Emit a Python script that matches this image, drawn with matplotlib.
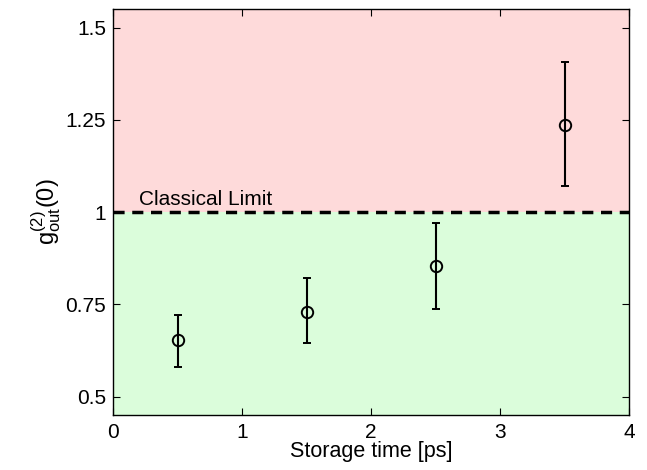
import matplotlib
matplotlib.use("Agg")
import matplotlib.pyplot as plt

plt.rcParams['font.family'] = ['Liberation Sans', 'DejaVu Sans']
plt.rcParams['mathtext.fontset'] = 'custom'
plt.rcParams['mathtext.rm'] = 'Liberation Sans'
plt.rcParams['mathtext.it'] = 'Liberation Sans:italic'

storage_time = [0.5, 1.5, 2.5, 3.5]
g2 = [0.652, 0.730, 0.854, 1.237]
err_upper = [0.721, 0.821, 0.970, 1.407]
err_lower = [0.580, 0.645, 0.738, 1.071]
classical_limit = 1.0
xticks = [0, 1, 2, 3, 4]
yticks = [0.5, 0.75, 1, 1.25, 1.5]
ytick_labels = ['0.5', '0.75', '1', '1.25', '1.5']

fig = plt.figure(figsize=(6.47, 4.70), dpi=100)
ax = fig.add_axes([113/647, 1 - 415/470, (629-113)/647, (415-9.3)/470])

xmin, xmax = 0, 4
ymin, ymax = 0.45, 1.55
ax.axhspan(ymin, classical_limit, color='#dbfddb', zorder=0, lw=0)
ax.axhspan(classical_limit, ymax, color='#fedada', zorder=0, lw=0)
ax.axhline(classical_limit, color='black', lw=2.5, ls=(0, (3.2, 2.2)), zorder=2)
ax.text(0.2, classical_limit + 0.008, 'Classical Limit', fontsize=15, ha='left', va='bottom')

yerr = [[g - lo for g, lo in zip(g2, err_lower)], [hi - g for g, hi in zip(g2, err_upper)]]
ax.errorbar(storage_time, g2, yerr=yerr, fmt='o', mfc='none', mec='black', color='black',
            ms=8.2, mew=1.4, elinewidth=1.5, capsize=3, capthick=1.5, zorder=3)

ax.set_xlim(xmin, xmax)
ax.set_ylim(ymin, ymax)
ax.set_xticks(xticks)
ax.set_xticklabels([str(t) for t in xticks])
ax.set_yticks(yticks)
ax.set_yticklabels(ytick_labels)
ax.tick_params(direction='in', length=5, width=0.8, top=True, right=True, labelsize=15)
ax.tick_params(axis='y', pad=5)
ax.tick_params(axis='x', pad=6)
for s in ax.spines.values():
    s.set_linewidth(1.0)
    s.set_zorder(5)

ax.set_xlabel('Storage time [ps]', fontsize=15.5, labelpad=-1)
ax.set_ylabel(r'$\mathrm{g^{(2)}_{out}(0)}$', fontsize=17, labelpad=2)

fig.savefig('out.png', dpi=100)
